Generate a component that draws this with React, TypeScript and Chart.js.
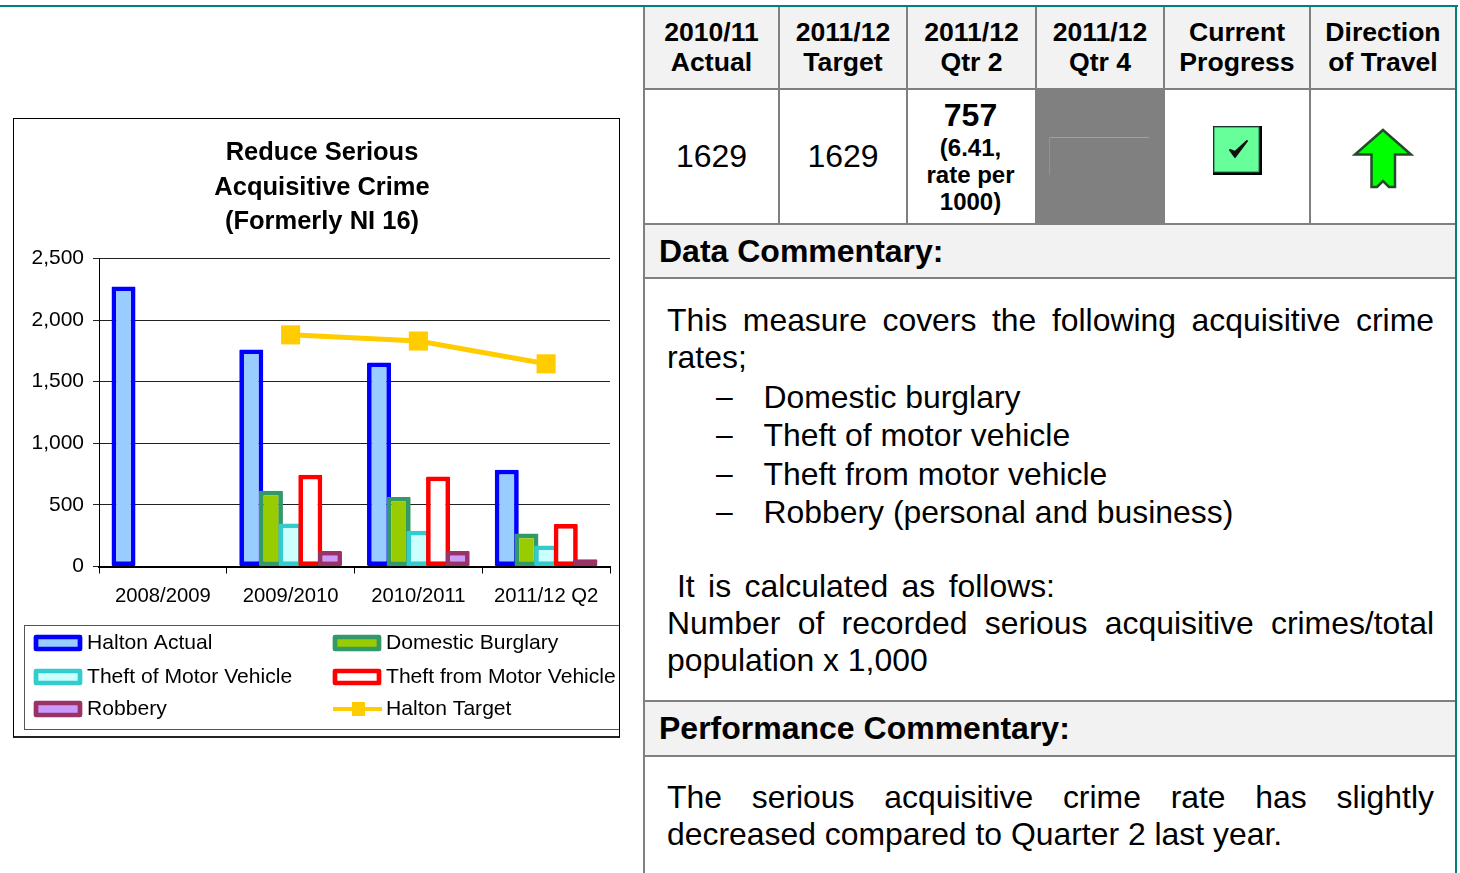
import React, { useEffect, useRef } from "react";
import { Chart, registerables } from "chart.js";

Chart.register(...registerables);

const FONT = '"Liberation Sans", Arial, sans-serif';

const categories = ["2008/2009", "2009/2010", "2010/2011", "2011/12 Q2"];
const haltonActual = [2272, 1762, 1655, 785];
const domesticBurglary = [null, 615, 565, 268];
const theftOfMotorVehicle = [null, 350, 290, 170];
const theftFromMotorVehicle = [null, 745, 730, 345];
const robbery = [null, 125, 125, 58];
const haltonTarget = [null, 1880, 1830, 1645];
const titleLines = ["Reduce Serious", "Acquisitive Crime", "(Formerly NI 16)"];

const headerCells = [
  ["2010/11", "Actual"],
  ["2011/12", "Target"],
  ["2011/12", "Qtr 2"],
  ["2011/12", "Qtr 4"],
  ["Current", "Progress"],
  ["Direction", "of Travel"],
];
const measureList = [
  "Domestic burglary",
  "Theft of motor vehicle",
  "Theft from motor vehicle",
  "Robbery (personal and business)",
];

const forwardDraw = {
  id: "forwardDraw",
  afterLayout(chart: any) {
    chart.titleBlock.left = 0;
    chart.titleBlock.right = chart.width;
  },
  beforeDatasetsDraw(chart: any) {
    chart.getSortedVisibleDatasetMetas().forEach((meta: any) => meta.controller.draw());
    return false;
  },
};

const legendSlots = [
  [20, 524],
  [20, 558],
  [20, 590],
  [319, 524],
  [319, 558],
  [319, 590],
];
const legendOrder = [0, 2, 4, 1, 3, 5];

const boxLegend = {
  id: "boxLegend",
  afterDraw(chart: any) {
    const ctx = chart.ctx;
    ctx.save();
    ctx.strokeStyle = "#555555";
    ctx.lineWidth = 1;
    ctx.strokeRect(10.5, 506.5, 640, 104);
    ctx.font = `21.1px ${FONT}`;
    ctx.textBaseline = "middle";
    ctx.lineJoin = "round";
    legendOrder.forEach((dsIndex, i) => {
      const ds = chart.data.datasets[dsIndex];
      const [x, y] = legendSlots[i];
      if (ds.type === "line") {
        ctx.strokeStyle = ds.borderColor;
        ctx.lineWidth = 4;
        ctx.beginPath();
        ctx.moveTo(x, y);
        ctx.lineTo(x + 49, y);
        ctx.stroke();
        ctx.fillStyle = ds.borderColor;
        ctx.fillRect(x + 19, y - 7, 13, 14);
      } else {
        ctx.fillStyle = ds.backgroundColor;
        ctx.strokeStyle = ds.borderColor;
        ctx.lineWidth = 4.7;
        ctx.fillRect(x + 2, y - 6, 44, 12);
        ctx.strokeRect(x + 2, y - 6, 44, 12);
      }
      ctx.fillStyle = "#000";
      ctx.fillText(ds.label, x + 53, y);
    });
    ctx.restore();
  },
};

function CrimeChart() {
  const ref = useRef<HTMLCanvasElement>(null);
  useEffect(() => {
    const bar = (label: string, data: any[], borderColor: string, backgroundColor: string) => ({
      type: "bar",
      label,
      data,
      borderColor,
      backgroundColor,
      borderWidth: 4.7,
      borderSkipped: false,
      borderRadius: 1,
      categoryPercentage: 0.77,
      barPercentage: 1.22,
    });
    const chart = new Chart(ref.current as HTMLCanvasElement, {
      data: {
        labels: categories,
        datasets: [
          bar("Halton Actual", haltonActual, "#0000ff", "#99ccff"),
          bar("Domestic Burglary", domesticBurglary, "#339966", "#99cc00"),
          bar("Theft of Motor Vehicle", theftOfMotorVehicle, "#33cccc", "#ccffff"),
          bar("Theft from Motor Vehicle", theftFromMotorVehicle, "#ff0000", "#ffffff"),
          bar("Robbery", robbery, "#993366", "#cc99ff"),
          {
            type: "line",
            label: "Halton Target",
            data: haltonTarget,
            borderColor: "#ffcc00",
            backgroundColor: "#ffcc00",
            borderWidth: 5,
            pointStyle: "rect",
            pointRadius: 13.5,
            pointBorderWidth: 0,
            tension: 0,
            spanGaps: false,
          },
        ],
      } as any,
      options: {
        animation: false,
        responsive: false,
        layout: { padding: { top: 0, left: 0, right: 20, bottom: 131.5 } },
        plugins: {
          legend: { display: false },
          tooltip: { enabled: false },
          title: {
            display: true,
            text: titleLines,
            color: "#000",
            font: { family: FONT, size: 25.5, weight: "bold", lineHeight: 1.35 },
            padding: { top: 17, bottom: 19.2 },
          },
        },
        scales: {
          x: {
            offset: true,
            border: { color: "#000", width: 2 },
            grid: { drawOnChartArea: false, drawTicks: true, tickLength: 7, color: "#000", offset: true },
            ticks: {
              color: "#000",
              font: { family: FONT, size: 20.3 },
              padding: 11,
              maxRotation: 0,
              autoSkip: false,
            },
            afterFit: (s: any) => {
              s.height = 40;
            },
          },
          y: {
            min: 0,
            max: 2500,
            border: { color: "#000", width: 1 },
            grid: { color: "#222", tickLength: 6, lineWidth: 1 },
            ticks: {
              stepSize: 500,
              color: "#000",
              padding: 9,
              font: { family: FONT, size: 21 },
              callback: (v: any) => Number(v).toLocaleString("en-US"),
            },
            afterFit: (s: any) => {
              s.width = 85;
            },
          },
        },
      } as any,
      plugins: [forwardDraw, boxLegend],
    } as any);
    return () => chart.destroy();
  }, []);
  return <canvas ref={ref} width={616} height={619} style={{ position: "absolute", left: 0, top: 0, width: 616, height: 619 }} />;
}

const abs = (left: number, top: number, width: number, height: number, extra: React.CSSProperties = {}): React.CSSProperties => ({
  position: "absolute",
  left,
  top,
  width,
  height,
  ...extra,
});

function Line({ x, y, w, text, size = 31.9, bold = false, justify = false, center = false }: any) {
  return (
    <div
      style={{
        position: "absolute",
        left: x,
        top: y - 22,
        width: w,
        height: 44,
        lineHeight: "44px",
        fontSize: size,
        fontWeight: bold ? "bold" : "normal",
        whiteSpace: justify ? "normal" : "nowrap",
        textAlign: justify ? "justify" : center ? "center" : "left",
        textAlignLast: justify ? "justify" : undefined,
        color: "#000",
      }}
    >
      {text}
    </div>
  );
}

const GRAY = "#808080";
const colEdges = [643, 778, 906, 1035, 1163, 1309, 1455];

function Table() {
  const hrule = (y: number) => <div key={"h" + y} style={abs(643, y, 813, 2, { background: GRAY })} />;
  return (
    <>
      <div style={abs(645, 7, 811, 82, { background: "#f2f2f2" })} />
      <div style={abs(645, 225, 811, 52, { background: "#f2f2f2" })} />
      <div style={abs(645, 702, 811, 53, { background: "#f2f2f2" })} />
      <div style={abs(1036, 90, 128, 134, { background: GRAY })} />
      <div style={abs(1049, 137, 100, 1, { background: "#a0a0a0" })} />
      <div style={abs(1049, 137, 1, 38, { background: "#939393" })} />
      {[88, 223, 277, 700, 755].map(hrule)}
      {colEdges.slice(0, 6).map((x, i) => (
        <div key={"v" + i} style={abs(x, 6, 2, i === 0 ? 867 : 218, { background: GRAY })} />
      ))}
      <div style={abs(0, 5, 1458, 2, { background: "#008080" })} />
      <div style={abs(1455, 5, 2, 868, { background: "#008080" })} />

      {headerCells.map((cell, i) => {
        const l = colEdges[i];
        const w = colEdges[i + 1] - l + 2;
        return (
          <React.Fragment key={i}>
            <Line x={l} y={32} w={w} text={cell[0]} size={26.6} bold center />
            <Line x={l} y={62} w={w} text={cell[1]} size={26.6} bold center />
          </React.Fragment>
        );
      })}

      <Line x={644} y={156} w={135} text="1629" size={32} center />
      <Line x={778} y={156} w={130} text="1629" size={32} center />
      <Line x={905} y={115} w={131} text="757" size={32} bold center />
      <Line x={905} y={148} w={131} text="(6.41," size={24} bold center />
      <Line x={905} y={175} w={131} text="rate per" size={24} bold center />
      <Line x={905} y={202} w={131} text="1000)" size={24} bold center />

      <svg style={abs(1210, 124, 56, 56)} viewBox="0 0 56 56">
        <rect x="3" y="2" width="49" height="49" fill="#000" />
        <rect x="4" y="3" width="45" height="45" fill="#66ff99" stroke="#2f6f4f" strokeWidth="1" />
        <path d="M20 26 L25 33 L37 17 L25 28 Z" fill="#111" stroke="#111" strokeWidth="2" strokeLinejoin="round" />
      </svg>
      <svg style={abs(1350, 125, 66, 68)} viewBox="0 0 66 68">
        <path
          d="M33 5 L61 29.5 L45 29.5 L45 62 L39 62 L33 56 L27 62 L21.5 62 L21.5 29.5 L5 29.5 Z"
          fill="#00ff00"
          stroke="#244a2c"
          strokeWidth="2.5"
        />
      </svg>

      <Line x={659} y={251} w={500} text="Data Commentary:" size={32} bold />
      <Line x={667} y={320} w={767} text="This measure covers the following acquisitive crime" justify />
      <Line x={667} y={357} w={767} text="rates;" />
      {measureList.map((t, i) => {
        const y = [397, 435, 474, 512][i];
        return (
          <React.Fragment key={t}>
            <Line x={716} y={y} w={30} text="–" size={30} />
            <Line x={763.5} y={y} w={660} text={t} />
          </React.Fragment>
        );
      })}
      <Line x={677} y={586} w={378} text="It is calculated as follows:" justify />
      <Line x={667} y={623} w={767} text="Number of recorded serious acquisitive crimes/total" justify />
      <Line x={667} y={660} w={767} text="population x 1,000" />
      <Line x={659} y={728} w={600} text="Performance Commentary:" size={32} bold />
      <Line x={667} y={797} w={767} text="The serious acquisitive crime rate has slightly" justify />
      <Line x={667} y={834} w={767} text="decreased compared to Quarter 2 last year." />
    </>
  );
}

export default function App() {
  return (
    <div style={{ position: "fixed", left: 0, top: 0, width: 1460, height: 873, background: "#fff", overflow: "hidden", fontFamily: FONT }}>
      <div style={abs(13, 118, 607, 620, { border: "1px solid #000", borderBottom: "2px solid #222", overflow: "hidden", boxSizing: "border-box" })}>
        <CrimeChart />
      </div>
      <Table />
    </div>
  );
}
